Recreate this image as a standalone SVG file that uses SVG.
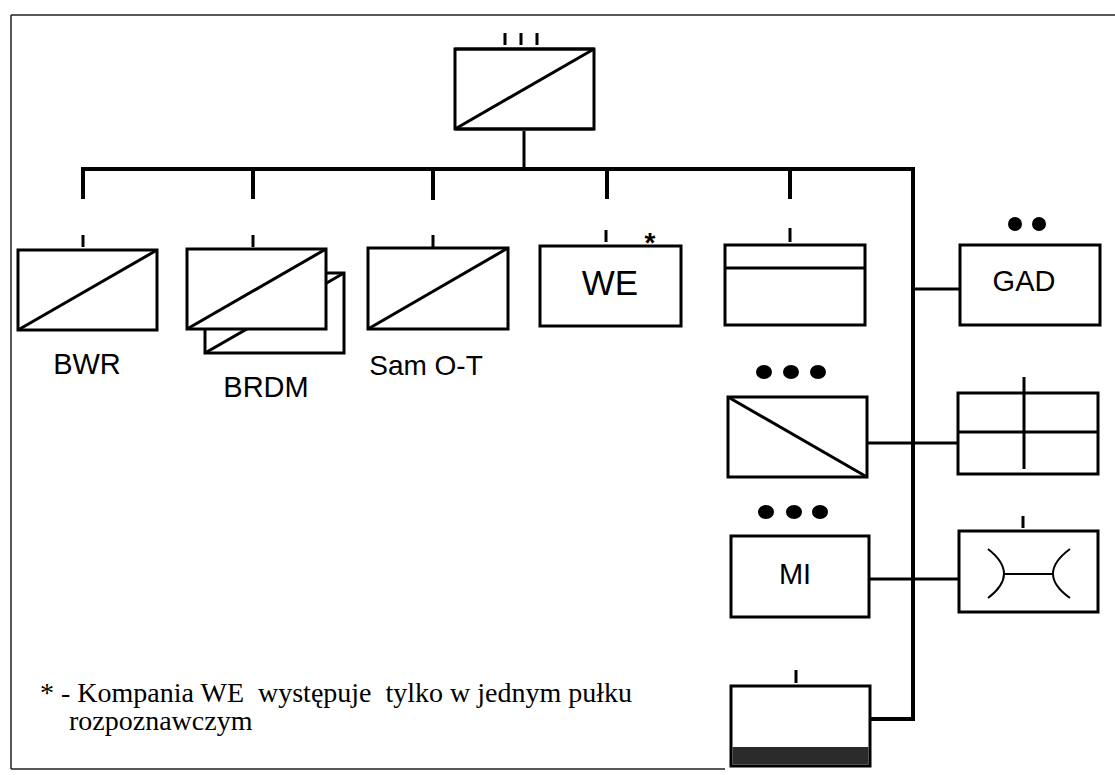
<svg xmlns="http://www.w3.org/2000/svg" width="1115" height="775" viewBox="0 0 1115 775">
<style>
.box{fill:#fff;stroke:#000;stroke-width:3}
.ln{stroke:#000;stroke-width:3;fill:none}
.thin{stroke:#000;stroke-width:2;fill:none}
.bus{stroke:#000;stroke-width:4;fill:none;stroke-linejoin:miter}
.frame{stroke:#222;stroke-width:1.5;fill:none}
.sans{font-family:"Liberation Sans",Arial,sans-serif;fill:#000;text-anchor:middle}
.serif{font-family:"Liberation Serif","Times New Roman",serif;fill:#000;font-size:28px;white-space:pre}
.dot{fill:#000}
</style>
<rect width="1115" height="775" fill="#fff"/>
<g id="frame">
<path class="frame" d="M11,15 H1115 M11,15 V769 M11,769 H725"/>
</g>
<g id="connectors">
<line class="ln" x1="524" y1="131" x2="524" y2="169"/>
<path class="bus" d="M83,199 V169 H913 V719 H870"/>
<line class="bus" x1="253" y1="169" x2="253" y2="199"/>
<line class="bus" x1="433" y1="169" x2="433" y2="200"/>
<line class="bus" x1="607" y1="169" x2="607" y2="199"/>
<line class="bus" x1="790" y1="169" x2="790" y2="199"/>
<line class="ln" x1="913" y1="289" x2="960" y2="289"/>
<line class="ln" x1="867" y1="443" x2="958" y2="443"/>
<line class="ln" x1="869" y1="579" x2="959" y2="579"/>
</g>
<g id="hq">
<rect class="box" x="455" y="49" width="139" height="80"/>
<path class="ln" d="M455,49 H594 M455,129 H594" stroke-width="5"/>
<line class="ln" x1="455" y1="129" x2="594" y2="49"/>
<path class="ln" d="M505,33 V45 M521,33 V45 M537,33 V45"/>
</g>
<g id="bwr">
<line class="ln" x1="83" y1="235" x2="83" y2="247"/>
<rect class="box" x="18" y="250" width="139" height="80"/>
<line class="ln" x1="18" y1="330" x2="157" y2="250"/>
<text class="sans" x="87" y="374" font-size="29">BWR</text>
</g>
<g id="brdm">
<rect class="box" x="205" y="273" width="139" height="80"/>
<line class="ln" x1="205" y1="353" x2="344" y2="273"/>
<line class="ln" x1="253" y1="235" x2="253" y2="247"/>
<rect class="box" x="187" y="249" width="139" height="80"/>
<line class="ln" x1="187" y1="329" x2="326" y2="249"/>
<text class="sans" x="266" y="397" font-size="29">BRDM</text>
</g>
<g id="samot">
<line class="ln" x1="433" y1="235" x2="433" y2="247"/>
<rect class="box" x="368" y="248" width="140" height="81"/>
<line class="ln" x1="368" y1="329" x2="508" y2="248"/>
<text class="sans" x="426" y="375" font-size="28">Sam O-T</text>
</g>
<g id="we">
<line class="ln" x1="606" y1="230" x2="606" y2="242"/>
<text class="sans" x="650" y="252" font-size="28" font-weight="bold">*</text>
<rect class="box" x="540" y="246" width="141" height="80"/>
<text class="sans" x="610" y="295" font-size="35">WE</text>
</g>
<g id="unit5">
<line class="ln" x1="790" y1="228" x2="790" y2="242"/>
<rect class="box" x="725" y="245" width="140" height="80"/>
<line class="ln" x1="725" y1="268" x2="865" y2="268"/>
</g>
<g id="gad">
<circle class="dot" cx="1015" cy="224" r="7"/>
<circle class="dot" cx="1039" cy="224" r="7"/>
<rect class="box" x="960" y="245" width="140" height="80"/>
<text class="sans" x="1024" y="291" font-size="29">GAD</text>
</g>
<g id="unit-diag">
<ellipse class="dot" cx="764" cy="372" rx="8" ry="7"/>
<ellipse class="dot" cx="791" cy="372" rx="8" ry="7"/>
<ellipse class="dot" cx="818" cy="372" rx="8" ry="7"/>
<rect class="box" x="728" y="397" width="139" height="80"/>
<line class="ln" x1="728" y1="397" x2="867" y2="477"/>
</g>
<g id="unit-grid">
<rect class="box" x="958" y="393" width="140" height="81"/>
<line class="ln" x1="958" y1="432" x2="1098" y2="432"/>
<line class="ln" x1="1024" y1="377" x2="1024" y2="469"/>
</g>
<g id="mi">
<ellipse class="dot" cx="766" cy="512" rx="8" ry="7"/>
<ellipse class="dot" cx="794" cy="512" rx="8" ry="7"/>
<ellipse class="dot" cx="820" cy="512" rx="8" ry="7"/>
<rect class="box" x="731" y="536" width="138" height="81"/>
<text class="sans" x="795" y="584" font-size="29">MI</text>
</g>
<g id="unit-bridge">
<line class="ln" x1="1023" y1="516" x2="1023" y2="528"/>
<rect class="box" x="959" y="531" width="139" height="81"/>
<path class="thin" d="M988,549 Q1020,574 988,598 M1070,549 Q1036,574 1070,598 M1004,574 H1053"/>
</g>
<g id="unit-bottom">
<line class="ln" x1="796" y1="670" x2="796" y2="683"/>
<rect class="box" x="731" y="686" width="139" height="80"/>
<rect x="732.5" y="747" width="136" height="17.5" fill="#2b2b2b"/>
</g>
<g id="legend">
<text class="serif" x="40" y="702" xml:space="preserve">* - Kompania WE  występuje  tylko w jednym pułku</text>
<text class="serif" x="69" y="730">rozpoznawczym</text>
</g>
</svg>
